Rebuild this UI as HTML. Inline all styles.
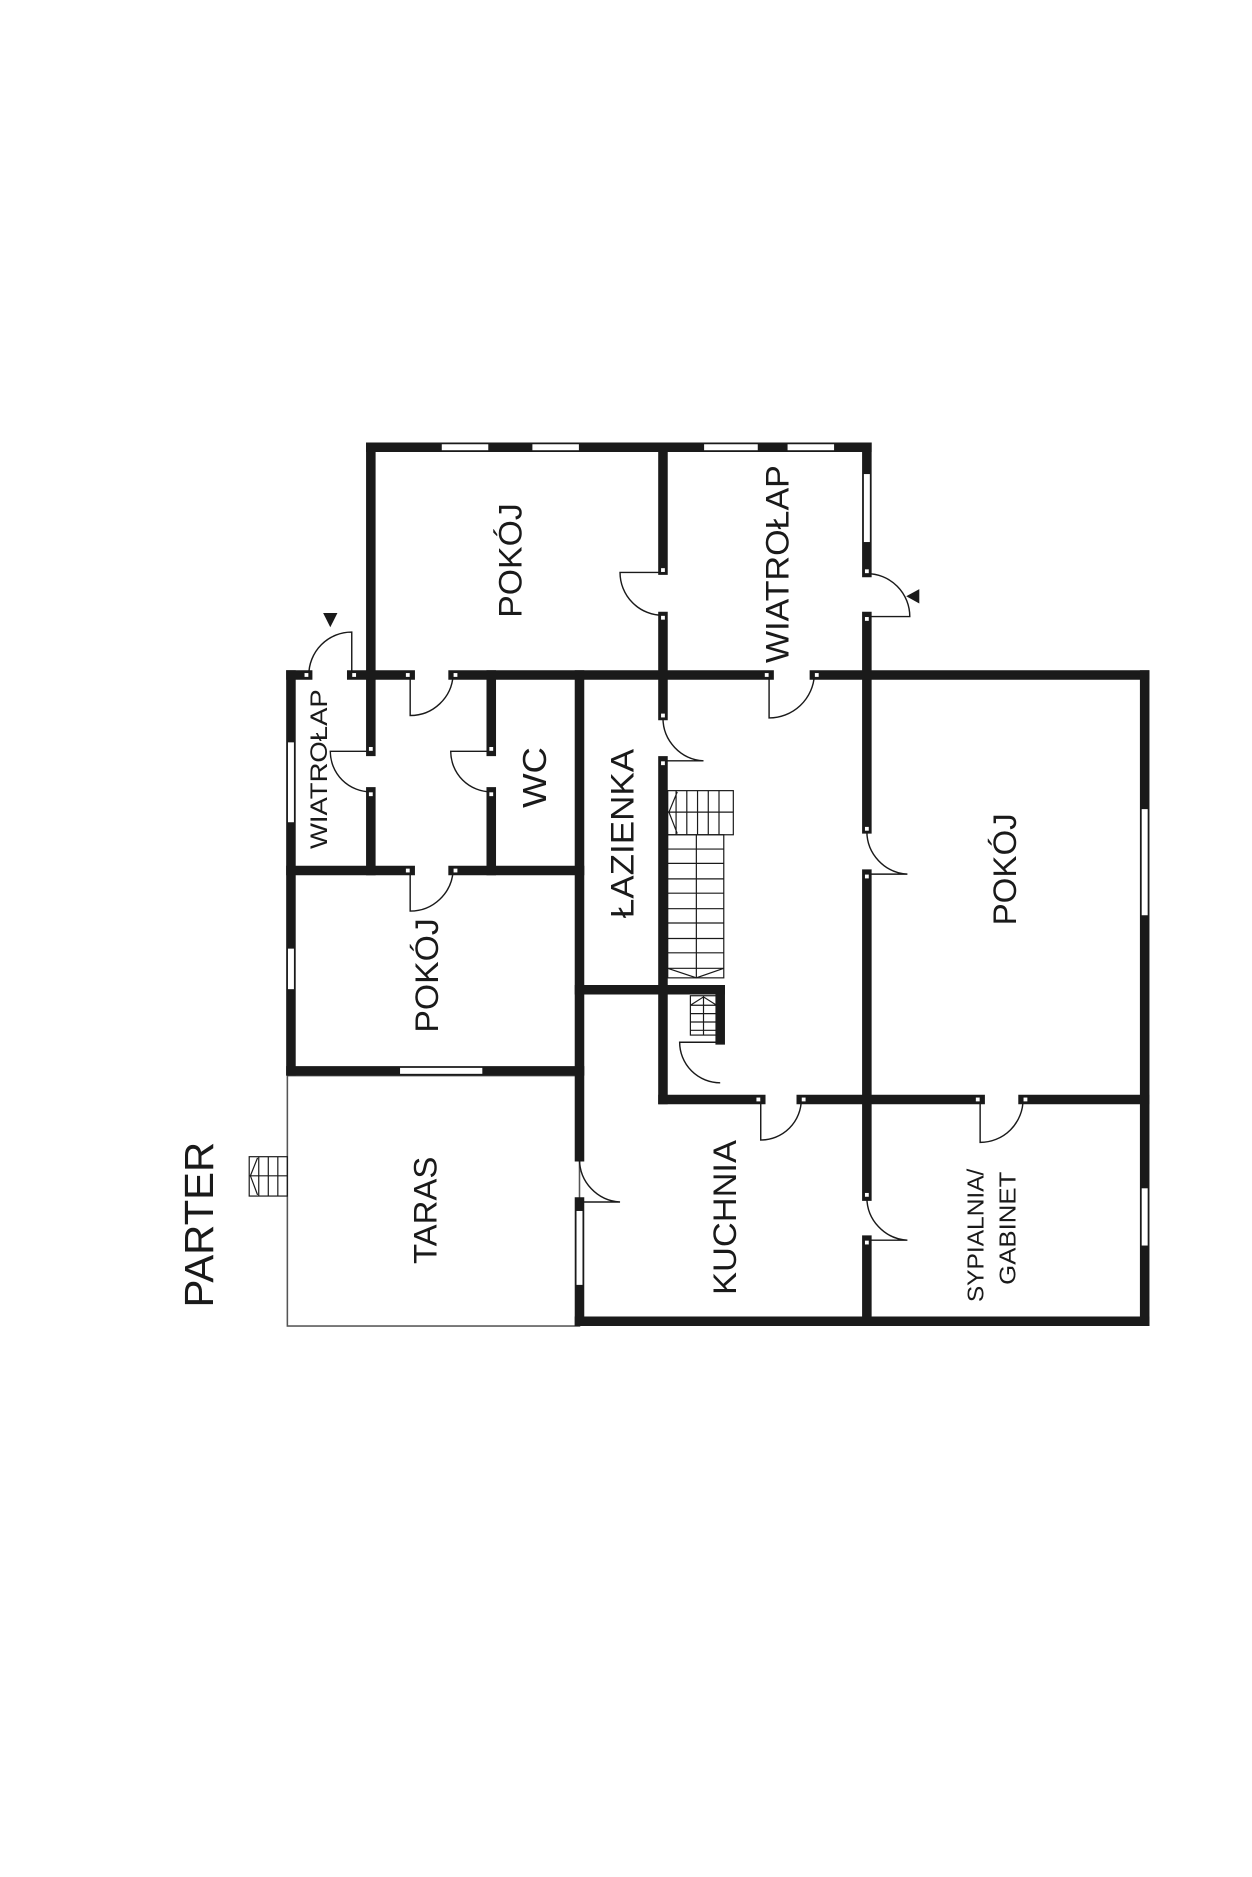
<!DOCTYPE html>
<html><head><meta charset="utf-8"><style>html,body{margin:0;padding:0;background:#fff}svg{display:block}</style></head>
<body>
<svg width="1252" height="1877" viewBox="0 0 1050 1574" xmlns="http://www.w3.org/2000/svg">
<rect width="1050" height="1574" fill="#fff"/>
<rect x="241" y="902" width="245" height="210" fill="none" stroke="#555" stroke-width="1.3"/>
<g stroke="#1a1a1a" stroke-width="8" stroke-linecap="square" fill="none">
<path d="M311 375H727"/>
<path d="M311 375V566"/>
<path d="M727 375V480M727 517V695M727 733V1003M727 1040V1108"/>
<path d="M556 375V478M556 517V600M556 638V922"/>
<path d="M244 566H258M295 566H344M380 566H645M683 566H960"/>
<path d="M244 566V898"/>
<path d="M960 566V1108"/>
<path d="M486 1108H960"/>
<path d="M311 566V630M311 664V730"/>
<path d="M412 566V630M412 664V730"/>
<path d="M486 566V970M486 1008V1108"/>
<path d="M244 730H344M380 730H486"/>
<path d="M486 830H604"/>
<path d="M604 830V872"/>
<path d="M244 898H486"/>
<path d="M556 922H638M672 922H822M858 922H960"/>
</g>
<g fill="#fff" stroke="#1a1a1a" stroke-width="1">
<rect x="370" y="372" width="40" height="6"/>
<rect x="446" y="372" width="40" height="6"/>
<rect x="590" y="372" width="46" height="6"/>
<rect x="660" y="372" width="40" height="6"/>
<rect x="724" y="397" width="6" height="58"/>
<rect x="241" y="622" width="6" height="68"/>
<rect x="241" y="795" width="6" height="35"/>
<rect x="335" y="895" width="70" height="6"/>
<rect x="957" y="678" width="6" height="90"/>
<rect x="957" y="996" width="6" height="49"/>
<rect x="483" y="1015" width="6" height="63"/>
</g>
<g fill="none" stroke="#1a1a1a" stroke-width="1.2">
<path d="M556 480H520A36 36 0 0 0 556 516"/>
<path d="M727 517H763A36 36 0 0 0 727 481"/>
<path d="M295 566V530A36 36 0 0 0 259 566"/>
<path d="M344 566V600A36 36 0 0 0 380 566"/>
<path d="M645 566V602A38 38 0 0 0 683 566"/>
<path d="M311 630H277A34 34 0 0 0 311 664"/>
<path d="M412 630H378A34 34 0 0 0 412 664"/>
<path d="M344 730V764A36 36 0 0 0 380 730"/>
<path d="M556 638H590A36 36 0 0 1 556 602"/>
<path d="M727 733H761A36 36 0 0 1 727 697"/>
<path d="M727 1040H761A36 36 0 0 1 727 1004"/>
<path d="M486 1008H520A36 36 0 0 1 486 972"/>
<path d="M638 922V956A34 34 0 0 0 672 922"/>
<path d="M822 922V958A36 36 0 0 0 858 922"/>
<path d="M604 874H570A34 34 0 0 0 604 908"/>
</g>
<g fill="#fff" stroke="#1a1a1a" stroke-width="0.8">
<rect x="554" y="476" width="4" height="4"/><rect x="554" y="516" width="4" height="4"/>
<rect x="725" y="477" width="4" height="4"/><rect x="725" y="517" width="4" height="4"/>
<rect x="255" y="564" width="4" height="4"/><rect x="295" y="564" width="4" height="4"/>
<rect x="340" y="564" width="4" height="4"/><rect x="380" y="564" width="4" height="4"/>
<rect x="641" y="564" width="4" height="4"/><rect x="683" y="564" width="4" height="4"/>
<rect x="309" y="626" width="4" height="4"/><rect x="309" y="664" width="4" height="4"/>
<rect x="410" y="626" width="4" height="4"/><rect x="410" y="664" width="4" height="4"/>
<rect x="340" y="728" width="4" height="4"/><rect x="380" y="728" width="4" height="4"/>
<rect x="554" y="598" width="4" height="4"/><rect x="554" y="638" width="4" height="4"/>
<rect x="725" y="693" width="4" height="4"/><rect x="725" y="733" width="4" height="4"/>
<rect x="725" y="1000" width="4" height="4"/><rect x="725" y="1040" width="4" height="4"/>
<rect x="634" y="920" width="4" height="4"/><rect x="672" y="920" width="4" height="4"/>
<rect x="818" y="920" width="4" height="4"/><rect x="858" y="920" width="4" height="4"/>
</g>
<path d="M271 514L283 514L277 526Z" fill="#1a1a1a"/>
<path d="M760 500L771 494L771 506Z" fill="#1a1a1a"/>
<g fill="none" stroke="#1a1a1a" stroke-width="1">
<rect x="560" y="663" width="55" height="37"/>
<path d="M567 663V700M576 663V700M585 663V700M594 663V700M603 663V700M560 681H615M568 664L561 681L568 699"/>
<rect x="560" y="700" width="47" height="120"/>
<path d="M584 700V820"/>
<path d="M560 712H607M560 724H607M560 737H607M560 749H607M560 762H607M560 774H607M560 787H607M560 799H607M560 812H607M560 812L584 820L607 812"/>
<rect x="579" y="835" width="22" height="33"/>
<path d="M590 835V868M579 843H601M579 850H601M579 857H601M579 864H601M579 843L590 836L601 843"/>
<rect x="209" y="970" width="32" height="33"/>
<path d="M217 970V1003M225 970V1003M233 970V1003M209 986H241M216 971L210 986L216 1002"/>
</g>
<g font-family="'Liberation Sans', 'DejaVu Sans', sans-serif" fill="#1a1a1a" text-anchor="middle" dominant-baseline="central">
<text transform="translate(428,470) rotate(-90)" font-size="27" textLength="96" lengthAdjust="spacingAndGlyphs">POKÓJ</text>
<text transform="translate(652,473) rotate(-90)" font-size="27" textLength="166" lengthAdjust="spacingAndGlyphs">WIATROŁAP</text>
<text transform="translate(268,645) rotate(-90)" font-size="20" textLength="134" lengthAdjust="spacingAndGlyphs">WIATROŁAP</text>
<text transform="translate(449,652) rotate(-90)" font-size="28" textLength="51" lengthAdjust="spacingAndGlyphs">WC</text>
<text transform="translate(522,699) rotate(-90)" font-size="27" textLength="142" lengthAdjust="spacingAndGlyphs">ŁAZIENKA</text>
<text transform="translate(843,729) rotate(-90)" font-size="27" textLength="94" lengthAdjust="spacingAndGlyphs">POKÓJ</text>
<text transform="translate(358,818) rotate(-90)" font-size="27" textLength="96" lengthAdjust="spacingAndGlyphs">POKÓJ</text>
<text transform="translate(357,1015) rotate(-90)" font-size="27" textLength="90" lengthAdjust="spacingAndGlyphs">TARAS</text>
<text transform="translate(608,1021) rotate(-90)" font-size="27" textLength="130" lengthAdjust="spacingAndGlyphs">KUCHNIA</text>
<text transform="translate(818,1036) rotate(-90)" font-size="19" textLength="112" lengthAdjust="spacingAndGlyphs">SYPIALNIA/</text>
<text transform="translate(845,1030) rotate(-90)" font-size="19" textLength="95" lengthAdjust="spacingAndGlyphs">GABINET</text>
<text transform="translate(167,1027) rotate(-90)" font-size="34" textLength="139" lengthAdjust="spacingAndGlyphs">PARTER</text>
</g>
</svg>
</body></html>
